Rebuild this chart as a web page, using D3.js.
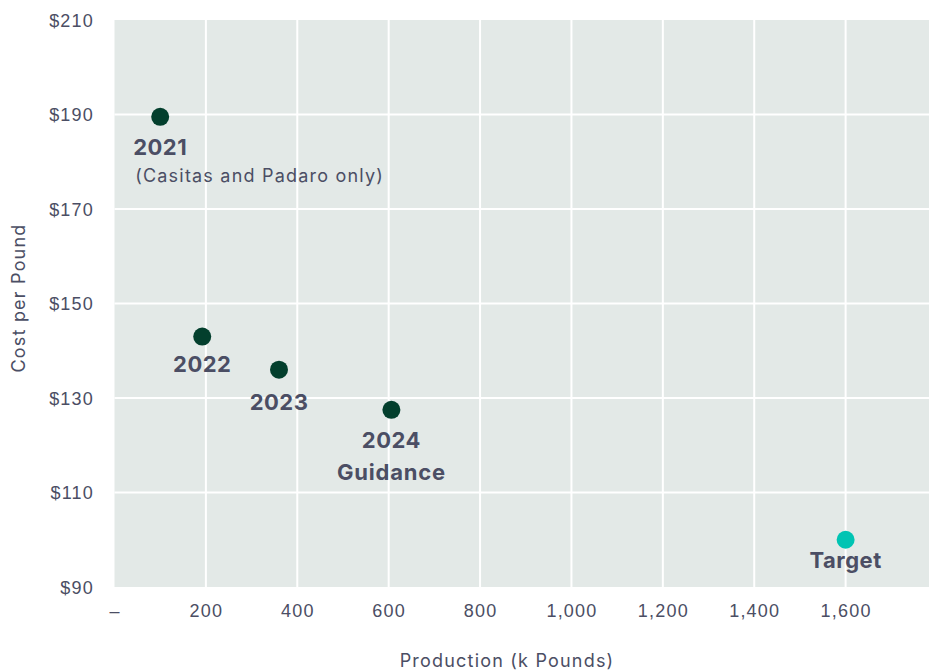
<!DOCTYPE html>
<html>
<head>
<meta charset="utf-8">
<script src="https://cdn.jsdelivr.net/npm/d3@7"></script>
<style>
  html, body { margin: 0; padding: 0; background: #ffffff; }
  svg { display: block; font-family: Inter, "Noto Sans", sans-serif; }
</style>
</head>
<body>
<svg id="chart" width="929" height="672"></svg>
<script>
// Production (thousand pounds) vs. cost per pound
const labels = ["2021", "2022", "2023", "2024", "Target"];
const subLabels = ["(Casitas and Padaro only)", "", "", "Guidance", ""];
const production = [100, 192, 360, 606, 1600];
const costPerPound = [189.5, 143, 136, 127.5, 100];
const isTarget = [false, false, false, false, true];

const xTicks = [0, 200, 400, 600, 800, 1000, 1200, 1400, 1600];
const yTicks = [90, 110, 130, 150, 170, 190, 210];

const svg = d3.select("#chart");
const W = 929, H = 672;
const margin = { left: 114.5, top: 20, right: -8, bottom: 85 };

const x = d3.scaleLinear().domain([0, 1800]).range([margin.left, W - margin.right]);
const y = d3.scaleLinear().domain([90, 210]).range([H - margin.bottom, margin.top]);

const textColor = "#4b4e64";
const regular = { size: "18px", spacing: "1.2px" };

// plot background
svg.append("rect")
  .attr("x", x(0)).attr("y", y(210))
  .attr("width", x(1800) - x(0)).attr("height", y(90) - y(210))
  .attr("fill", "#e3e9e7");

// gridlines
svg.append("g").selectAll("line").data(xTicks.filter(d => d > 0)).join("line")
  .attr("x1", d => x(d)).attr("x2", d => x(d))
  .attr("y1", y(210)).attr("y2", y(90))
  .attr("stroke", "#ffffff").attr("stroke-width", 2);
svg.append("g").selectAll("line").data(yTicks.filter(d => d > 90 && d < 210)).join("line")
  .attr("x1", x(0)).attr("x2", x(1800))
  .attr("y1", d => y(d)).attr("y2", d => y(d))
  .attr("stroke", "#ffffff").attr("stroke-width", 2);

// axes (labels only)
const xAxis = d3.axisBottom(x).tickValues(xTicks).tickSize(0).tickPadding(0)
  .tickFormat(d => d === 0 ? "–" : d3.format(",")(d));
const gx = svg.append("g").attr("transform", `translate(0,${y(90)})`).call(xAxis);
gx.select(".domain").remove();
gx.selectAll("text")
  .attr("dy", null).attr("y", 30)
  .attr("fill", textColor)
  .style("font-size", regular.size).style("letter-spacing", regular.spacing);

const yAxis = d3.axisLeft(y).tickValues(yTicks).tickSize(0).tickPadding(0)
  .tickFormat(d => "$" + d);
const gy = svg.append("g").attr("transform", `translate(94,0)`).call(yAxis);
gy.select(".domain").remove();
gy.selectAll("text")
  .attr("dy", "0.35em").attr("x", 0)
  .attr("fill", textColor)
  .style("font-size", regular.size).style("letter-spacing", regular.spacing);

// axis titles
svg.append("text")
  .attr("x", 507).attr("y", 667)
  .attr("text-anchor", "middle")
  .attr("fill", textColor)
  .style("font-size", regular.size).style("letter-spacing", regular.spacing)
  .text("Production (k Pounds)");
svg.append("text")
  .attr("transform", `translate(25,${298}) rotate(-90)`)
  .attr("text-anchor", "middle")
  .attr("fill", textColor)
  .style("font-size", regular.size).style("letter-spacing", regular.spacing)
  .text("Cost per Pound");

const data = labels.map((l, i) => ({
  label: l, sub: subLabels[i], px: production[i], cost: costPerPound[i], target: isTarget[i]
}));

// points
svg.append("g").selectAll("circle").data(data).join("circle")
  .attr("cx", d => x(d.px)).attr("cy", d => y(d.cost))
  .attr("r", 9)
  .attr("fill", d => d.target ? "#00c4b3" : "#033f2d");

// label offset below each point
const labelGap = { "2021": 38, "2022": 35, "2023": 40, "2024": 38, "Target": 28 };

const lab = svg.append("g").selectAll("g").data(data).join("g")
  .attr("transform", d => `translate(${x(d.px)},${y(d.cost)})`);
lab.append("text")
  .attr("text-anchor", "middle")
  .attr("y", d => labelGap[d.label])
  .attr("fill", textColor)
  .style("font-size", "22px").style("font-weight", 700).style("letter-spacing", "0.5px")
  .text(d => d.label);
lab.filter(d => d.sub === "Guidance").append("text")
  .attr("text-anchor", "middle")
  .attr("y", d => labelGap[d.label] + 32)
  .attr("fill", textColor)
  .style("font-size", "22px").style("font-weight", 700).style("letter-spacing", "0.8px")
  .text(d => d.sub);
lab.filter(d => d.label === "2021").append("text")
  .attr("text-anchor", "start")
  .attr("x", -25)
  .attr("y", 65)
  .attr("fill", textColor)
  .style("font-size", regular.size).style("letter-spacing", regular.spacing)
  .text(d => d.sub);
</script>
</body>
</html>
